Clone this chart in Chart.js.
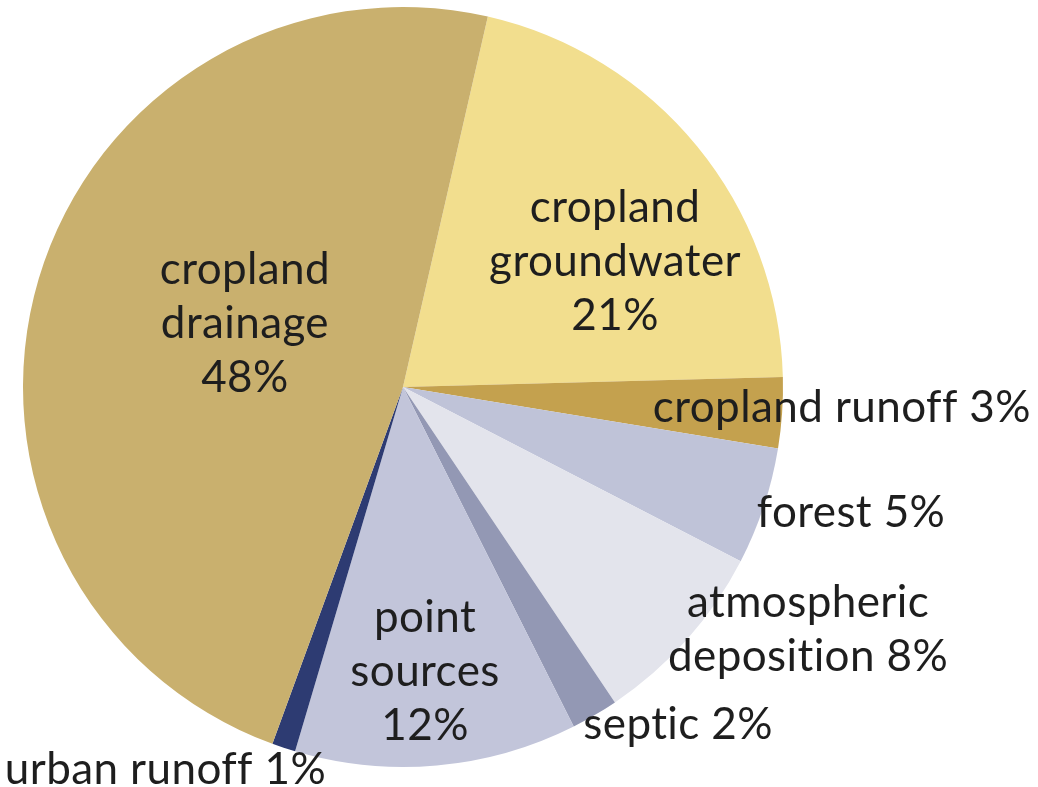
<!DOCTYPE html>
<html>
<head>
<meta charset="utf-8">
<script src="https://cdn.jsdelivr.net/npm/chart.js@4"></script>
<style>
	html, body { margin: 0; padding: 0; background: #fff; }
	#wrap { width: 1038px; height: 787px; }
</style>
</head>
<body>
<div id="wrap"><canvas id="pie" width="1038" height="787"></canvas></div>
<script>
// nitrogen sources, clockwise from the top
const sources = ['cropland groundwater', 'cropland runoff', 'forest', 'atmospheric deposition', 'septic', 'point sources', 'urban runoff', 'cropland drainage'];
const shares = [21, 3, 5, 8, 2, 12, 1, 48];
const colors = ['#F2DE8E', '#C4A14E', '#BFC3D8', '#E3E4EC', '#9398B4', '#C2C5DA', '#2D3B72', '#C9B06E'];

// label lines for each slice
const labelLines = [
	['cropland', 'groundwater', '21%'],
	['cropland runoff 3%'],
	['forest 5%'],
	['atmospheric', 'deposition 8%'],
	['septic 2%'],
	['point', 'sources', '12%'],
	['urban runoff 1%'],
	['cropland', 'drainage', '48%']
];
// label block centre, relative to the pie centre, in radius units
const labelAnchors = [
	[0.558, -0.329], [1.155, 0.055], [1.179, 0.332], [1.066, 0.639],
	[0.724, 0.889], [0.058, 0.75], [-0.625, 1.008], [-0.416, -0.166]
];

const sliceLabels = {
	id: 'sliceLabels',
	afterDatasetsDraw(chart) {
		const { ctx } = chart;
		const arc = chart.getDatasetMeta(0).data[0];
		const cx = arc.x, cy = arc.y, r = arc.outerRadius;
		const lineH = 54;
		ctx.save();
		ctx.font = '44px Lato, "Open Sans", sans-serif';
		ctx.letterSpacing = '0.4px'; // keeps "ff" / "ti" as separate glyphs
		ctx.fillStyle = '#1e1e1e';
		ctx.textAlign = 'center';
		ctx.textBaseline = 'middle';
		labelLines.forEach((lines, i) => {
			const x = cx + labelAnchors[i][0] * r;
			const y0 = cy + labelAnchors[i][1] * r - (lines.length - 1) * lineH / 2;
			lines.forEach((t, j) => ctx.fillText(t, x, y0 + j * lineH));
		});
		ctx.restore();
	}
};

new Chart(document.getElementById('pie').getContext('2d'), {
	type: 'pie',
	data: {
		labels: sources,
		datasets: [{
			data: shares,
			backgroundColor: colors,
			borderWidth: 0
		}]
	},
	options: {
		responsive: false,
		animation: false,
		rotation: 12.9,
		layout: {
			padding: { left: 23, right: 255, top: 7, bottom: 20 }
		},
		plugins: {
			legend: { display: false },
			tooltip: { enabled: false }
		}
	},
	plugins: [sliceLabels]
});
</script>
</body>
</html>
